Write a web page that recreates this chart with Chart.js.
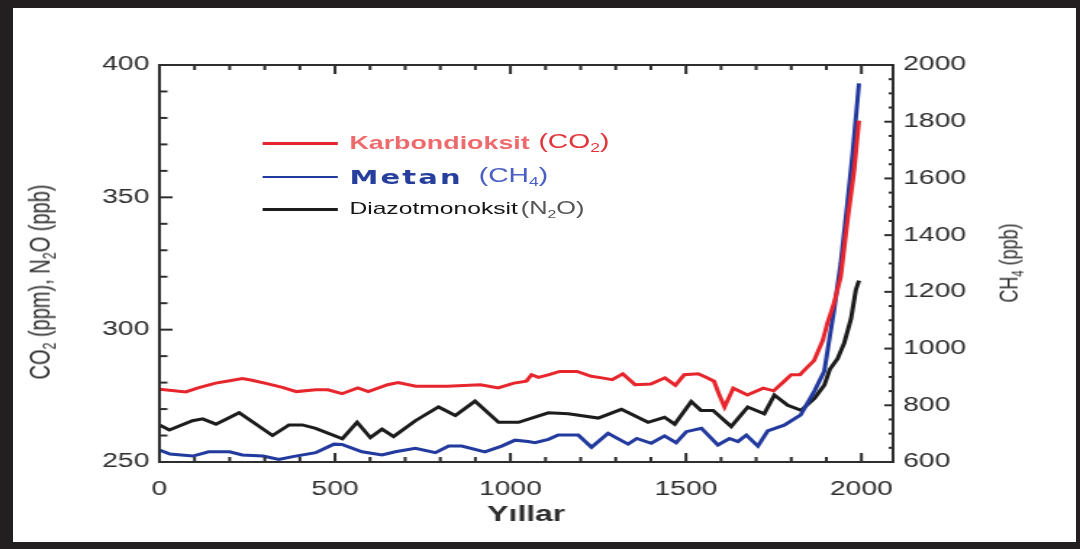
<!DOCTYPE html>
<html lang="tr">
<head>
<meta charset="utf-8">
<title>Sera gazları</title>
<script src="https://cdn.jsdelivr.net/npm/chart.js@4.4.1/dist/chart.umd.min.js"></script>
<style>
  html, body { margin: 0; padding: 0; background: #fff; }
  body { width: 1080px; height: 549px; position: relative; overflow: hidden; }
  /* the reference is stretched sideways, so the chart is drawn narrow and widened */
  #stage { position: absolute; left: 0; top: 0; width: 745px; height: 549px;
           transform: scaleX(1.4497); transform-origin: 0 0; }
  #frame { position: absolute; inset: 0; box-sizing: border-box; pointer-events: none;
           border: solid #231f20; border-width: 8px 4px 7px 13px; }
  .axis-title { position: absolute; white-space: nowrap; color: #2e2e2e;
                font: 18px "Liberation Sans", Arial, sans-serif;
                transform: translate(-50%, -50%) rotate(-90deg); }
  .axis-title sub, .legend sub { font-size: 0.62em; vertical-align: -0.35em; }
  .legend .row { position: absolute; left: 181px; height: 24px; display: flex;
                 align-items: center; white-space: nowrap; }
  .legend .swatch { display: inline-block; width: 52px; margin-right: 8px; }
  .legend .name { font: bold 18.5px "Liberation Sans", Arial, sans-serif; }
  .legend .unit { font: 19.5px "Liberation Sans", Arial, sans-serif; margin-left: 6px; }
  .legend .metan { font-family: "DejaVu Sans", sans-serif; font-size: 20px; letter-spacing: 1.5px; }
  .legend .metan + .unit { margin-left: 11px; }
  .legend .plain { font-weight: normal; font-size: 17px; }
  .legend .plain + .unit { margin-left: 2px; font-size: 17.5px; }
</style>
</head>
<body>
<div id="stage">
  <canvas id="chart" width="745" height="549"></canvas>
  <div class="axis-title" style="left:29px; top:282px; font-size:20px">CO<sub>2</sub> (ppm), N<sub>2</sub>O (ppb)</div>
  <div class="axis-title" style="left:697px; top:263px">CH<sub>4</sub> (ppb)</div>
  <div class="legend" id="legend"></div>
</div>
<div id="frame"></div>
<script>
// Axis ticks
const X_TICKS = [0, 500, 1000, 1500, 2000];
const LEFT_TICKS = [250, 300, 350, 400];
const RIGHT_TICKS = [600, 800, 1000, 1200, 1400, 1600, 1800, 2000];

// CO2 (ppm), left axis
const CO2_YEARS = [0, 75, 110, 160, 200, 236, 260, 300, 350, 390, 445, 480, 520, 565, 595, 650, 680, 730,
  820, 915, 965, 1010, 1045, 1060, 1080, 1110, 1140, 1190, 1230, 1260, 1290, 1320, 1355, 1400, 1440,
  1470, 1495, 1535, 1560, 1580, 1595, 1610, 1635, 1675, 1720, 1750, 1780, 1800, 1825, 1845, 1865,
  1890, 1903, 1922, 1941, 1960, 1979, 1993];
const CO2_PPM = [277.5, 276.5, 278, 279.8, 280.7, 281.5, 281, 279.8, 278.2, 276.6, 277.3, 277.3, 275.8,
  278, 276.6, 279.2, 280, 278.6, 278.6, 279.2, 278, 279.8, 280.5, 283, 282, 283, 284.2, 284.2, 282.4,
  281.8, 281.1, 283.3, 279.2, 279.5, 281.8, 279, 283, 283.3, 281.8, 280.5, 275.3, 270.8, 277.9, 275.3,
  277.9, 276.9, 280.5, 283, 283, 285.7, 288.3, 296, 302.5, 310, 320, 341, 360, 379];

// CH4 (ppb), right axis
const CH4_YEARS = [0, 30, 95, 140, 200, 236, 295, 340, 380, 445, 497, 520, 577, 634, 672, 729, 786, 824,
  861, 927, 975, 1013, 1050, 1070, 1108, 1136, 1193, 1231, 1278, 1335, 1360, 1401, 1439, 1472, 1501,
  1544, 1591, 1624, 1648, 1672, 1705, 1733, 1780, 1827, 1866, 1894, 1922, 1941, 1960, 1975, 1993];
const CH4_PPB = [642, 628, 621, 636, 636, 625, 621, 609, 619, 633, 663, 662, 636, 625, 636, 648, 633, 656,
  656, 636, 656, 677, 672, 668, 680, 695, 695, 652, 701, 663, 683, 666, 692, 668, 707, 719, 660, 683,
  672, 695, 656, 710, 730, 766, 850, 920, 1136, 1300, 1512, 1690, 1935];

// N2O (ppb), left axis
const N2O_YEARS = [0, 28, 94, 123, 161, 227, 322, 369, 407, 445, 521, 563, 601, 634, 667, 729, 795, 843,
  899, 966, 1023, 1108, 1165, 1250, 1316, 1392, 1439, 1468, 1515, 1543, 1577, 1629, 1676, 1723, 1752,
  1790, 1828, 1866, 1894, 1910, 1932, 1951, 1970, 1984, 1993];
const N2O_PPB = [264, 262.1, 265.6, 266.3, 264.3, 268.6, 260, 264, 264, 262.7, 258.8, 265, 259.2, 262.4,
  259.6, 265.6, 270.8, 267.6, 273, 265, 265, 268.6, 268.2, 266.6, 269.9, 265, 266.9, 264.3, 272.8,
  269.5, 269.5, 263.4, 270.8, 268.2, 275.3, 271.4, 269.5, 274, 279, 285, 289, 295, 304, 315, 318.5];

const COLORS = {
  co2: '#e6262c',
  ch4: '#22399e',
  n2o: '#1c1c1c',
  axis: '#2e2e2e',
  text: '#2e2e2e',
};

const FONT = '"Liberation Sans", Arial, sans-serif';

const SERIES = [
  { label: 'Karbondioksit', unit: 'CO<sub>2</sub>', years: CO2_YEARS, values: CO2_PPM, axis: 'y',
    color: COLORS.co2, nameColor: '#ee6a6c', unitColor: '#e0363b', swatch: 3, cls: '' },
  { label: 'Metan', unit: 'CH<sub>4</sub>', years: CH4_YEARS, values: CH4_PPB, axis: 'y2',
    color: COLORS.ch4, nameColor: '#263f9c', unitColor: '#4a5ec4', swatch: 2, cls: 'metan' },
  { label: 'Diazotmonoksit', unit: 'N<sub>2</sub>O', years: N2O_YEARS, values: N2O_PPB, axis: 'y',
    color: COLORS.n2o, nameColor: '#151515', unitColor: '#555', swatch: 3.5, cls: 'plain' },
];

// inward tick marks on all four sides plus the plot box
const innerTicks = {
  id: 'innerTicks',
  afterDraw(chart) {
    const { ctx, chartArea: a, scales } = chart;
    const seg = (x1, y1, x2, y2) => { ctx.beginPath(); ctx.moveTo(x1, y1); ctx.lineTo(x2, y2); ctx.stroke(); };
    ctx.save();
    ctx.strokeStyle = COLORS.axis;
    ctx.lineWidth = 2;
    ctx.strokeRect(a.left, a.top, a.right - a.left, a.bottom - a.top);
    for (let v = 0; v <= scales.x.max; v += 100) {
      const px = scales.x.getPixelForValue(v);
      const len = X_TICKS.includes(v) ? 9 : 5;
      seg(px, a.bottom, px, a.bottom - len);
      seg(px, a.top, px, a.top + len);
    }
    for (let v = scales.y.min; v <= scales.y.max; v += 10) {
      const py = scales.y.getPixelForValue(v);
      seg(a.left, py, a.left + (LEFT_TICKS.includes(v) ? 9 : 5.5), py);
    }
    for (let v = scales.y2.min; v <= scales.y2.max; v += 50) {
      const py = scales.y2.getPixelForValue(v);
      seg(a.right, py, a.right - (RIGHT_TICKS.includes(v) ? 6 : 3), py);
    }
    ctx.restore();
  },
};

function fixedTicks(list) {
  return scale => { scale.ticks = list.map(value => ({ value })); };
}

const tickStyle = { padding: 7, color: COLORS.text, font: { family: FONT, size: 19.5 }, callback: v => String(v) };

function renderLegend() {
  const box = document.getElementById('legend');
  const tops = [131, 165, 197];
  SERIES.forEach((s, i) => {
    const row = document.createElement('div');
    row.className = 'row';
    row.style.top = tops[i] + 'px';
    row.innerHTML =
      `<span class="swatch" style="border-top:${s.swatch}px solid ${s.color}"></span>` +
      `<span class="name ${s.cls}" style="color:${s.nameColor}">${s.label}</span>` +
      `<span class="unit" style="color:${s.unitColor}">(${s.unit})</span>`;
    box.appendChild(row);
  });
}

function renderChart() {
  new Chart(document.getElementById('chart'), {
    type: 'line',
    data: {
      datasets: SERIES.map(s => ({
        label: s.label,
        data: s.years.map((yr, i) => ({ x: yr, y: s.values[i] })),
        yAxisID: s.axis,
        borderColor: s.color,
        borderWidth: 3,
        pointRadius: 0,
        tension: 0,
        fill: false,
      })),
    },
    options: {
      responsive: false,
      animation: false,
      events: [],
      layout: { padding: { top: 65, left: 0, right: 0, bottom: 0 } },
      plugins: { legend: { display: false }, tooltip: { enabled: false } },
      scales: {
        x: {
          type: 'linear',
          min: 0,
          max: 2090,
          afterBuildTicks: fixedTicks(X_TICKS),
          afterFit: s => { s.height = 87; },
          grid: { display: false, drawTicks: false },
          border: { display: false },
          ticks: { ...tickStyle, padding: 16, maxRotation: 0 },
          title: {
            display: true, text: 'Yıllar', color: COLORS.text,
            font: { family: FONT, size: 22, weight: 'bold' },
            padding: { top: 0, bottom: 21 },
          },
        },
        y: {
          position: 'left',
          min: 250,
          max: 400,
          afterBuildTicks: fixedTicks(LEFT_TICKS),
          afterFit: s => { s.width = 110; },
          grid: { display: false, drawTicks: false },
          border: { display: false },
          ticks: tickStyle,
        },
        y2: {
          position: 'right',
          min: 600,
          max: 2000,
          afterBuildTicks: fixedTicks(RIGHT_TICKS),
          afterFit: s => { s.width = 129; },
          grid: { display: false, drawTicks: false },
          border: { display: false },
          ticks: tickStyle,
        },
      },
    },
    plugins: [innerTicks],
  });
}

renderChart();
renderLegend();
</script>
</body>
</html>
